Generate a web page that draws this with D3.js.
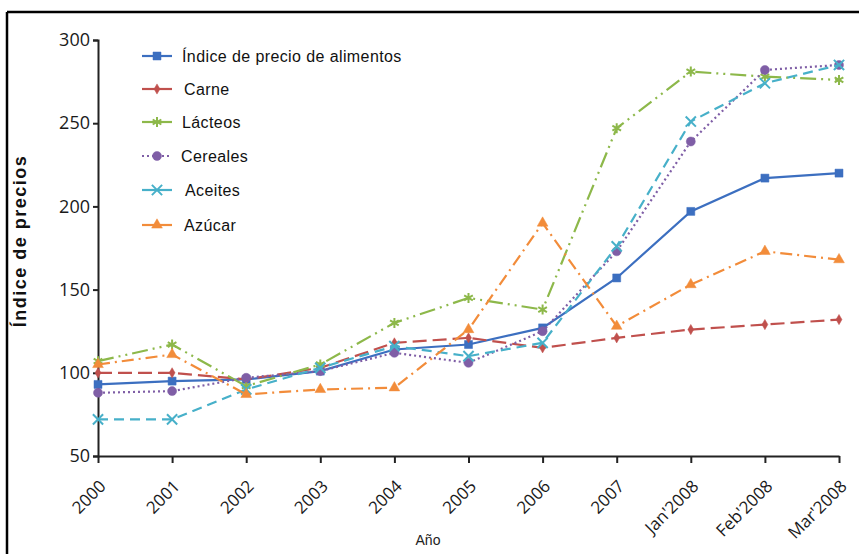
<!DOCTYPE html>
<html><head><meta charset="utf-8">
<script src="https://cdn.jsdelivr.net/npm/d3@7"></script>
<style>body{margin:0;background:#fff}svg{display:block}</style>
</head><body>
<script>
const categories = ["2000","2001","2002","2003","2004","2005","2006","2007","Jan'2008","Feb'2008","Mar'2008"];
const seriesNames = ["Índice de precio de alimentos","Carne","Lácteos","Cereales","Aceites","Azúcar"];
const indice   = [93, 95, 96, 101, 114, 117, 127, 157, 197, 217, 220];
const carne    = [100, 100, 96, 103, 118, 121, 115, 121, 126, 129, 132];
const lacteos  = [107, 117, 92, 105, 130, 145, 138, 247, 281, 278, 276];
const cereales = [88, 89, 97, 101, 112, 106, 125, 173, 239, 282, 285];
const aceites  = [72, 72, 90, 103, 116, 110, 118, 176, 251, 274, 285];
const azucar   = [105, 111, 87, 90, 91, 126, 190, 128, 153, 173, 168];
const yTicks = [50, 100, 150, 200, 250, 300];

const styles = [
  {color:"#3c6fc0", dash:null, sym:d3.symbolSquare, size:64, fill:true},
  {color:"#c0504d", dash:"14,6", sym:d3.symbolDiamond, size:30, fill:true},
  {color:"#8db84a", dash:"16,5,2,5,2,5", sym:d3.symbolAsterisk, size:70, fill:false},
  {color:"#7f5ea6", dash:"2,3", sym:d3.symbolCircle, size:64, fill:true},
  {color:"#47b0c9", dash:"10,6", sym:d3.symbolTimes, size:70, fill:false},
  {color:"#f28c3a", dash:"12,5,2,5", sym:d3.symbolTriangle, size:50, fill:true}
];
const data = [indice, carne, lacteos, cereales, aceites, azucar];

const W = 859, H = 554;
const svg = d3.select("body").append("svg").attr("width", W).attr("height", H);

// frame
svg.append("line").attr("x1",7).attr("x2",W).attr("y1",12).attr("y2",12).attr("stroke","#000").attr("stroke-width",2.5);
svg.append("line").attr("x1",7).attr("x2",7).attr("y1",12).attr("y2",H).attr("stroke","#000").attr("stroke-width",2.5);

const x = d3.scalePoint().domain(categories).range([98, 839]);
const y = d3.scaleLinear().domain([50, 300]).range([456, 40]);

// y axis
const ya = svg.append("g").attr("transform","translate(98,0)")
  .call(d3.axisLeft(y).tickValues(yTicks).tickSize(5).tickPadding(3));
ya.select(".domain").attr("stroke","#222").attr("stroke-width",2);
ya.selectAll(".tick line").attr("stroke","#222").attr("stroke-width",2);
ya.selectAll("text").attr("font-family","'Open Sans', sans-serif").attr("font-size",18).attr("font-weight",500).attr("fill","#1a1a1a");

// x axis
const xa = svg.append("g").attr("transform","translate(0,456)")
  .call(d3.axisBottom(x).tickSize(7).tickSizeOuter(0));
xa.select(".domain").attr("stroke","#222").attr("stroke-width",2);
xa.selectAll(".tick line").attr("stroke","#222").attr("stroke-width",2);
xa.selectAll("text").attr("font-family","'Open Sans', sans-serif").attr("font-size",17).attr("font-weight",500).attr("fill","#1a1a1a")
  .attr("text-anchor","end").attr("dy","0.35em")
  .attr("transform","translate(-3,20) rotate(-45)");

// axis titles
svg.append("text").attr("transform","translate(26,241) rotate(-90)").attr("text-anchor","middle")
  .attr("font-family","'Liberation Sans', Arial, sans-serif").attr("font-weight","bold").attr("font-size",18)
  .attr("letter-spacing",1.5).attr("fill","#111").text("Índice de precios");
svg.append("text").attr("x",428).attr("y",545).attr("text-anchor","middle")
  .attr("font-family","'Liberation Sans', Arial, sans-serif").attr("font-size",14).attr("fill","#222").text("Año");

// lines
const line = d3.line().x((d,i)=>x(categories[i])).y(d=>y(d));
data.forEach((vals, k) => {
  const s = styles[k];
  const g = svg.append("g");
  g.append("path").datum(vals).attr("d", line).attr("fill","none")
    .attr("stroke", s.color).attr("stroke-width", 2.2)
    .attr("stroke-dasharray", s.dash);
  g.selectAll("path.m").data(vals).enter().append("path").attr("class","m")
    .attr("transform",(d,i)=>`translate(${x(categories[i])},${y(d)})`)
    .attr("d", d3.symbol().type(s.sym).size(s.size))
    .attr("fill", s.fill ? s.color : "none")
    .attr("stroke", s.color).attr("stroke-width", s.fill ? 0.5 : 2);
});

// legend
const legY = [56, 89, 122, 156, 190, 225];
const legX = [182, 184, 182, 181, 185, 184];
seriesNames.forEach((name, k) => {
  const s = styles[k];
  const g = svg.append("g");
  g.append("line").attr("x1",142).attr("x2",172).attr("y1",legY[k]).attr("y2",legY[k])
    .attr("stroke",s.color).attr("stroke-width",2.2).attr("stroke-dasharray", k===3 ? "2,3" : null);
  g.append("path").attr("transform",`translate(157,${legY[k]})`)
    .attr("d", d3.symbol().type(s.sym).size(s.size))
    .attr("fill", s.fill ? s.color : "none").attr("stroke", s.color).attr("stroke-width", s.fill ? 0.5 : 2);
  g.append("text").attr("x",legX[k]).attr("y",legY[k]).attr("dy","0.35em")
    .attr("font-family","'Liberation Sans', Arial, sans-serif").attr("font-size",16).attr("letter-spacing",0.4)
    .attr("fill","#111").text(name);
});
</script>
</body></html>
